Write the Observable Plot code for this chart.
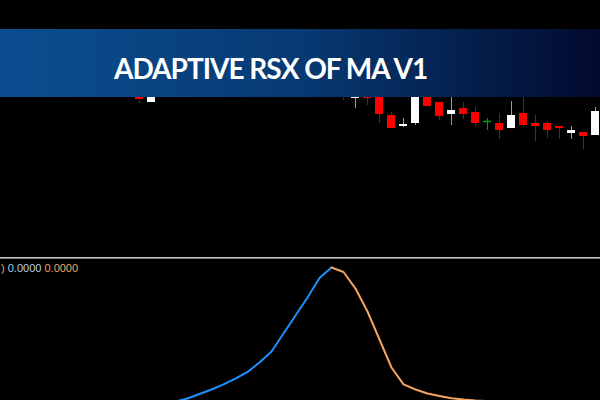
<!DOCTYPE html>
<html>
<head>
<meta charset="utf-8">
<script src="https://cdn.jsdelivr.net/npm/d3@7"></script>
<script src="https://cdn.jsdelivr.net/npm/@observablehq/plot@0.6"></script>
<style>
  html, body { margin: 0; padding: 0; background: #000; width: 600px; height: 400px; overflow: hidden; }
  #wrap { position: relative; width: 600px; height: 400px; background: #000; }
  #price { position: absolute; left: 0; top: 0; }
  #ind { position: absolute; left: 0; top: 258px; }
  .sep1 { position: absolute; left: 0; top: 257px; width: 600px; height: 1px; background: #c4c4c4; }
  .sep2 { position: absolute; left: 0; top: 258px; width: 600px; height: 1px; background: #7a7a7a; }
  #banner { position: absolute; left: 0; top: 29px; width: 600px; height: 68px;
    background: linear-gradient(to right, #0b4e90 0%, #073a73 50%, #020a2e 100%); }
  #title { position: absolute; left: 114px; top: 21px; color: #fff; font-family: Lato, "Open Sans", sans-serif;
    font-weight: 700; font-size: 28px; line-height: 36px; letter-spacing: -1px; white-space: nowrap; }
  #label { position: absolute; left: 1px; top: 262px; font-family: "Liberation Sans", Arial, sans-serif;
    font-size: 11px; line-height: 13px; white-space: pre; }
</style>
</head>
<body>
<div id="wrap">
  <div id="price"></div>
  <div id="ind"></div>
  <div class="sep1"></div>
  <div class="sep2"></div>
  <div id="label"><span style="color:#e0a060">)</span> <span style="color:#b8cde6">0.0000</span> <span style="color:#eaa867">0.0000</span></div>
  <div id="banner"><div id="title">ADAPTIVE RSX OF MA V1</div></div>
</div>
<script>
// ---- price candles (bar index, OHLC) ----
const barIndex = [0, 1, 17, 18, 19, 20, 21, 22, 23, 24, 25, 26, 27, 28, 29, 30, 31, 32, 33, 34, 35, 36, 37, 38];
const opens  = [1.0910, 1.0898, 1.0920, 1.0902, 1.0915, 1.0912, 1.0885, 1.0874, 1.0877, 1.0910, 1.0898, 1.0886, 1.0892, 1.0888, 1.0879, 1.0877, 1.0872, 1.0887, 1.0877, 1.0877, 1.0874, 1.0867, 1.0868, 1.0865];
const highs  = [1.0915, 1.0915, 1.0925, 1.0920, 1.0920, 1.0916, 1.0888, 1.0882, 1.0916, 1.0915, 1.0898, 1.0908, 1.0898, 1.0893, 1.0882, 1.0887, 1.0899, 1.0905, 1.0885, 1.0879, 1.0874, 1.0874, 1.0868, 1.0893];
const lows   = [1.0897, 1.0898, 1.0900, 1.0892, 1.0895, 1.0877, 1.0872, 1.0873, 1.0875, 1.0894, 1.0880, 1.0875, 1.0881, 1.0873, 1.0870, 1.0861, 1.0872, 1.0873, 1.0859, 1.0862, 1.0861, 1.0861, 1.0851, 1.0865];
const closes = [1.0901, 1.0910, 1.0908, 1.0915, 1.0902, 1.0886, 1.0872, 1.0876, 1.0912, 1.0894, 1.0884, 1.0890, 1.0886, 1.0877, 1.0879, 1.0870, 1.0885, 1.0875, 1.0874, 1.0870, 1.0872, 1.0870, 1.0864, 1.0889];

// ---- Adaptive RSX indicator (0..100) ----
const upIndex   = [3, 4, 5, 6, 7, 8, 9, 10, 11, 12, 13, 14, 15, 16];
const upValues  = [0.7, 2.9, 6.1, 9.3, 12.9, 17.1, 21.8, 28.6, 36.4, 49.3, 62.1, 75.0, 88.9, 96.4];
const downIndex  = [16, 17, 18, 19, 20, 21, 22, 23, 24, 25, 26, 27, 28, 29, 30];
const downValues = [96.4, 93.2, 81.4, 65.0, 45.0, 25.0, 12.9, 9.3, 6.4, 4.6, 3.1, 2.1, 1.4, 1.0, 0.5];

const candles = barIndex.map((i, k) => ({i, open: opens[k], high: highs[k], low: lows[k], close: closes[k]}));
const up = upIndex.map((i, k) => ({i, v: upValues[k]}));
const down = downIndex.map((i, k) => ({i, v: downValues[k]}));

const xDomain = [-139 / 12, 461 / 12];
const half = 1 / 3;
const wickColor = d => d.close > d.open ? "#9a9a9a" : d.close < d.open ? "#b00000" : "#00a000";
const bodyColor = d => d.close > d.open ? "#ffffff" : "#ff0000";

const price = Plot.plot({
  width: 600, height: 258, margin: 0,
  style: {background: "#000"},
  x: {domain: xDomain, axis: null},
  y: {domain: [1.0742, 1.1000], axis: null},
  color: {type: "identity"},
  marks: [
    Plot.ruleX(candles, {x: "i", y1: "low", y2: "high", stroke: wickColor, strokeWidth: 1}),
    Plot.rect(candles.filter(d => d.open !== d.close), {x1: d => d.i - half, x2: d => d.i + half, y1: "open", y2: "close", fill: bodyColor}),
    Plot.ruleY(candles.filter(d => d.open === d.close), {y: "open", x1: d => d.i - half, x2: d => d.i + half, stroke: "#00a000", strokeWidth: 1.5})
  ]
});
document.getElementById("price").appendChild(price);

const ind = Plot.plot({
  width: 600, height: 142, margin: 0,
  style: {background: "#000"},
  x: {domain: xDomain, axis: null},
  y: {domain: [0, 100], range: [144, 4], axis: null},
  marks: [
    Plot.line(up, {x: "i", y: "v", stroke: "#1e90ff", strokeWidth: 2}),
    Plot.line(down, {x: "i", y: "v", stroke: "#f4a460", strokeWidth: 2})
  ]
});
document.getElementById("ind").appendChild(ind);
</script>
</body>
</html>
